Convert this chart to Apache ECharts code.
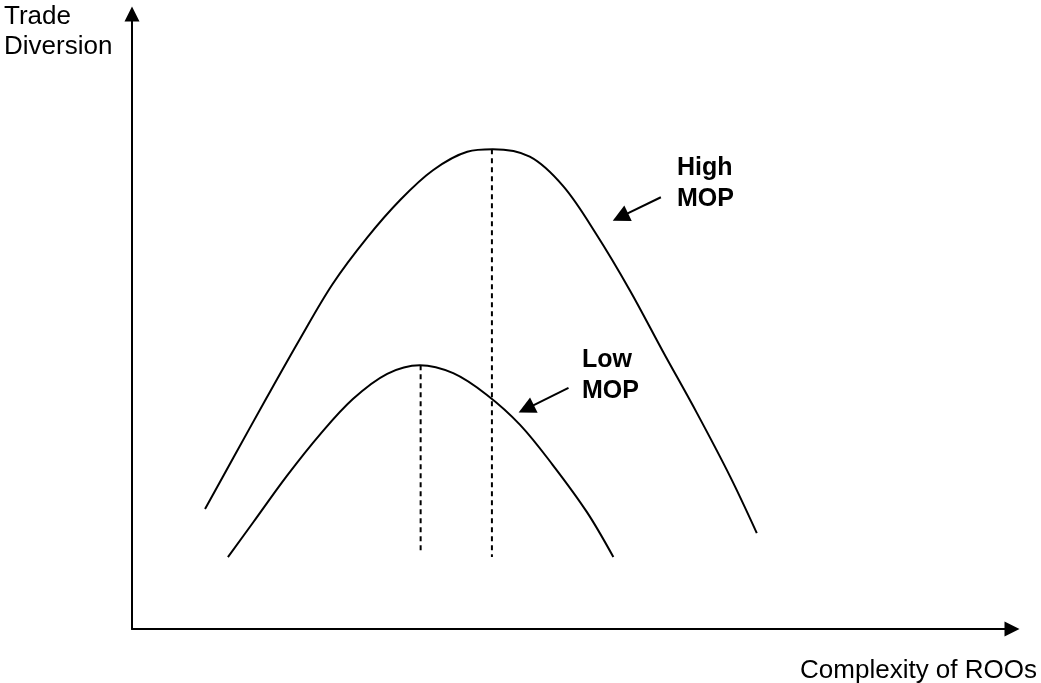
<!DOCTYPE html>
<html>
<head>
<meta charset="utf-8">
<script src="https://cdn.jsdelivr.net/npm/echarts@6.0.0/dist/echarts.min.js"></script>
<style>
  body { margin: 0; background: #fff; }
  #chart { width: 1041px; height: 683px; }
</style>
</head>
<body>
<div id="chart"></div>
<script>
// high MOP curve
var highX = [8.3, 11.5, 15.3, 19.1, 22.8, 26.7, 30.5, 34.2, 38.1, 41.0, 45.2, 49.0, 52.8, 56.6, 60.3, 64.2, 68.0, 71.0];
var highY = [19.5, 27.8, 37.6, 47.2, 56.1, 63.6, 69.8, 74.6, 77.6, 78.0, 76.8, 72.0, 64.1, 55.0, 45.2, 35.1, 24.7, 15.6];

// low MOP curve
var lowX = [10.9, 13.8, 17.6, 21.4, 25.1, 29.0, 32.7, 36.5, 40.3, 44.1, 47.8, 51.7, 54.7];
var lowY = [11.7, 17.4, 24.9, 31.7, 37.4, 41.5, 42.9, 41.6, 38.1, 33.2, 26.7, 19.0, 11.7];

// dashed drop lines from the peaks: [x, yTop, yBottom]
var lowPeakLine = [32.8, 42.9, 12.4];
var highPeakLine = [40.9, 78.0, 11.7];

// pointer arrows: [fromX, fromY, headX, headY] (head = centre of the arrow head)
var highArrow = [60.1, 70.2, 55.5, 67.0];
var lowArrow = [49.6, 39.2, 44.8, 35.8];

var labels = ["Trade\nDiversion", "Complexity of ROOs", "High\nMOP", "Low\nMOP"];

function zip(xs, ys) {
  var out = [];
  for (var i = 0; i < xs.length; i++) out.push([xs[i], ys[i]]);
  return out;
}

var chart = echarts.init(document.getElementById("chart"));

var tri = "path://M0,16L8,0L16,16Z";
var curveStyle = { color: "#000", width: 2 };
var dashStyle = { color: "#000", width: 2, type: [5, 4] };

function plainAxis() {
  return {
    type: "value",
    min: 0,
    max: 100,
    axisLine: {
      show: true,
      symbol: ["none", tri],
      symbolSize: [15, 16],
      lineStyle: { color: "#000", width: 2 },
    },
    axisTick: { show: false },
    axisLabel: { show: false },
    splitLine: { show: false },
  };
}

var option = {
  animation: false,
  backgroundColor: "#fff",
  grid: { left: 132, right: 29, top: 14, bottom: 54 },
  xAxis: plainAxis(),
  yAxis: plainAxis(),
  series: [
    {
      name: "High MOP",
      type: "line",
      smooth: 0.35,
      showSymbol: false,
      lineStyle: curveStyle,
      data: zip(highX, highY),
    },
    {
      name: "Low MOP",
      type: "line",
      smooth: 0.35,
      showSymbol: false,
      lineStyle: curveStyle,
      data: zip(lowX, lowY),
    },
    {
      type: "line",
      showSymbol: false,
      lineStyle: dashStyle,
      data: [[lowPeakLine[0], lowPeakLine[1]], [lowPeakLine[0], lowPeakLine[2]]],
    },
    {
      type: "line",
      showSymbol: false,
      lineStyle: dashStyle,
      data: [[highPeakLine[0], highPeakLine[1]], [highPeakLine[0], highPeakLine[2]]],
    },
    {
      type: "lines",
      coordinateSystem: "cartesian2d",
      symbol: ["none", tri],
      symbolSize: [13, 17],
      lineStyle: { color: "#000", width: 2, opacity: 1 },
      data: [
        { coords: [[highArrow[0], highArrow[1]], [highArrow[2], highArrow[3]]] },
        { coords: [[lowArrow[0], lowArrow[1]], [lowArrow[2], lowArrow[3]]] },
      ],
    },
  ],
  graphic: [
    {
      type: "text",
      left: 4,
      top: 2,
      style: {
        text: labels[0],
        font: "26px 'Liberation Sans', Arial, sans-serif",
        lineHeight: 30,
        fill: "#000",
      },
    },
    {
      type: "text",
      right: 4,
      top: 656,
      style: {
        text: labels[1],
        font: "26px 'Liberation Sans', Arial, sans-serif",
        lineHeight: 30,
        fill: "#000",
      },
    },
    {
      type: "text",
      left: 677,
      top: 153,
      style: {
        text: labels[2],
        font: "bold 25px 'Liberation Sans', Arial, sans-serif",
        lineHeight: 31,
        fill: "#000",
      },
    },
    {
      type: "text",
      left: 582,
      top: 345,
      style: {
        text: labels[3],
        font: "bold 25px 'Liberation Sans', Arial, sans-serif",
        lineHeight: 31,
        fill: "#000",
      },
    },
  ],
};

chart.setOption(option);
</script>
</body>
</html>
